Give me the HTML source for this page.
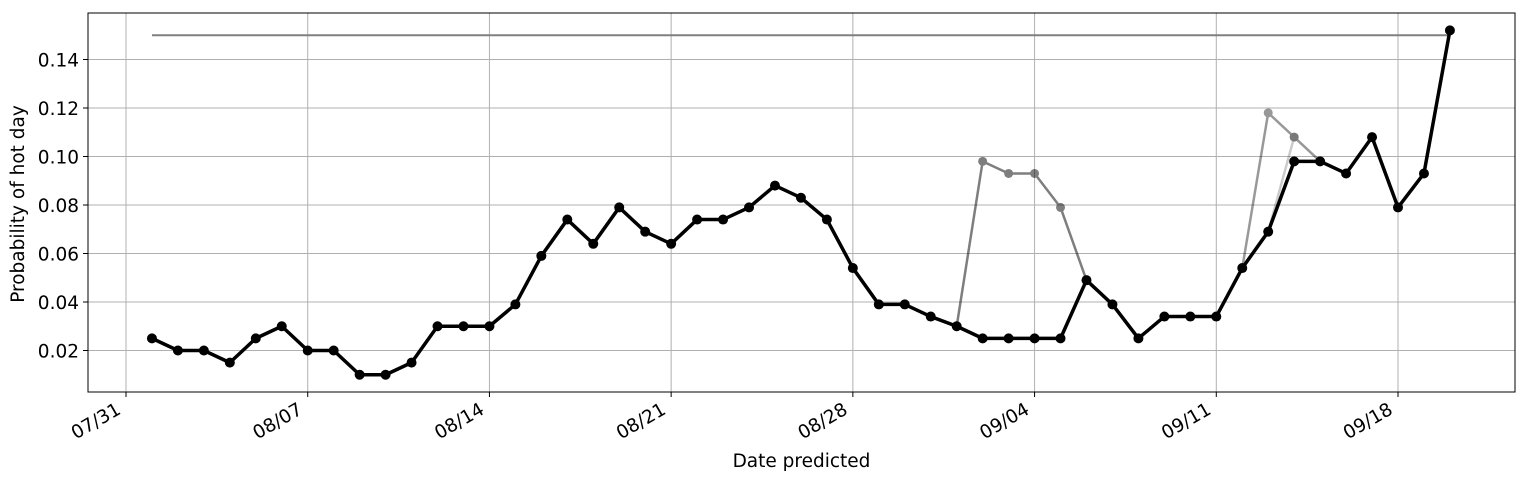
<!DOCTYPE html>
<html><head><meta charset="utf-8"><style>
body{margin:0;background:#fff}
svg{display:block;font-family:"DejaVu Sans","Liberation Sans",sans-serif}
</style></head><body>
<svg id="chart" width="1528" height="481" viewBox="0 0 1528 481" xmlns="http://www.w3.org/2000/svg"></svg>
<script>
const mainValues=[0.025,0.020,0.020,0.015,0.025,0.030,0.020,0.020,0.010,0.010,0.015,0.030,0.030,0.030,0.039,0.059,0.074,0.064,0.079,0.069,0.064,0.074,0.074,0.079,0.088,0.083,0.074,0.054,0.039,0.039,0.034,0.030,0.025,0.025,0.025,0.025,0.049,0.039,0.025,0.034,0.034,0.034,0.054,0.069,0.098,0.098,0.093,0.108,0.079,0.093,0.152];
const mainStartDay=1; // day offset from 07/31
const alt1Start=32, alt1Values=[0.030,0.098,0.093,0.093,0.079,0.049];
const alt2Start=43, alt2Values=[0.054,0.118,0.108,0.098];
const alt3Start=44, alt3Values=[0.069,0.108];
const thresholdValue=0.150, thresholdStart=1, thresholdEnd=51;
const xTickDays=[0,7,14,21,28,35,42,49];
const xTickLabels=["07/31","08/07","08/14","08/21","08/28","09/04","09/11","09/18"];
const yTicks=[0.02,0.04,0.06,0.08,0.10,0.12,0.14];

const NS="http://www.w3.org/2000/svg";
const svg=document.getElementById('chart');
const L=88,R=1515,T=13,B=392;
const x=d=>126+d*(1398-126)/49;
const y=v=>350.5-(v-0.02)*(291/0.12);
function el(t,a,p){const e=document.createElementNS(NS,t);for(const k in a)e.setAttribute(k,a[k]);(p||svg).appendChild(e);return e;}

const grid=el('g',{});


xTickDays.forEach((d,i)=>{
  el('line',{x1:x(d),x2:x(d),y1:T,y2:B,stroke:'#b0b0b0','stroke-width':1},grid);
  el('line',{x1:x(d),x2:x(d),y1:B,y2:B+5,stroke:'#000','stroke-width':1},svg);
  const ax=x(d)-4, ay=B+21;
  const t=el('text',{x:ax,y:ay,'font-size':18.5,'text-anchor':'end',transform:`rotate(-30 ${ax} ${ay})`});
  t.textContent=xTickLabels[i];
  
  
});
yTicks.forEach(v=>{
  el('line',{x1:L,x2:R,y1:y(v),y2:y(v),stroke:'#b0b0b0','stroke-width':1},grid);
  el('line',{x1:L-5,x2:L,y1:y(v),y2:y(v),stroke:'#000','stroke-width':1});
  const t=el('text',{x:L-9,y:y(v)+7,'font-size':18.5,'text-anchor':'end'});
  t.textContent=v.toFixed(2);
  
  
});

const th=el('line',{x1:x(thresholdStart),x2:x(thresholdEnd),y1:y(thresholdValue),y2:y(thresholdValue),stroke:'#808080','stroke-width':2});



function series(start,vals,color,op,w,r,name){
  const g=el('g',{opacity:op});
  
  
  el('polyline',{points:vals.map((v,i)=>x(start+i)+','+y(v)).join(' '),fill:'none',stroke:color,'stroke-width':w,'stroke-linejoin':'round'},g);
  vals.forEach((v,i)=>{const c=el('circle',{cx:x(start+i),cy:y(v),r:r,fill:color},g);
    
    });
}
series(alt3Start,alt3Values,'#000',0.2,2.5,4.5,'forecast-series-3');
series(alt2Start,alt2Values,'#000',0.4,2.5,4.5,'forecast-series-2');
series(alt1Start,alt1Values,'#000',0.5,2.5,4.5,'forecast-series-1');
series(mainStartDay,mainValues,'#000',1,3.5,5,'observed-series');

el('rect',{x:L,y:T,width:R-L,height:B-T,fill:'none',stroke:'#000','stroke-width':1});
const xl=el('text',{x:(L+R)/2,y:467,'font-size':18.5,'text-anchor':'middle'});xl.textContent='Date predicted';


const yl=el('text',{x:24,y:204,'font-size':18.5,'text-anchor':'middle',transform:'rotate(-90 24 204)'});yl.textContent='Probability of hot day';


</script>
</body></html>
